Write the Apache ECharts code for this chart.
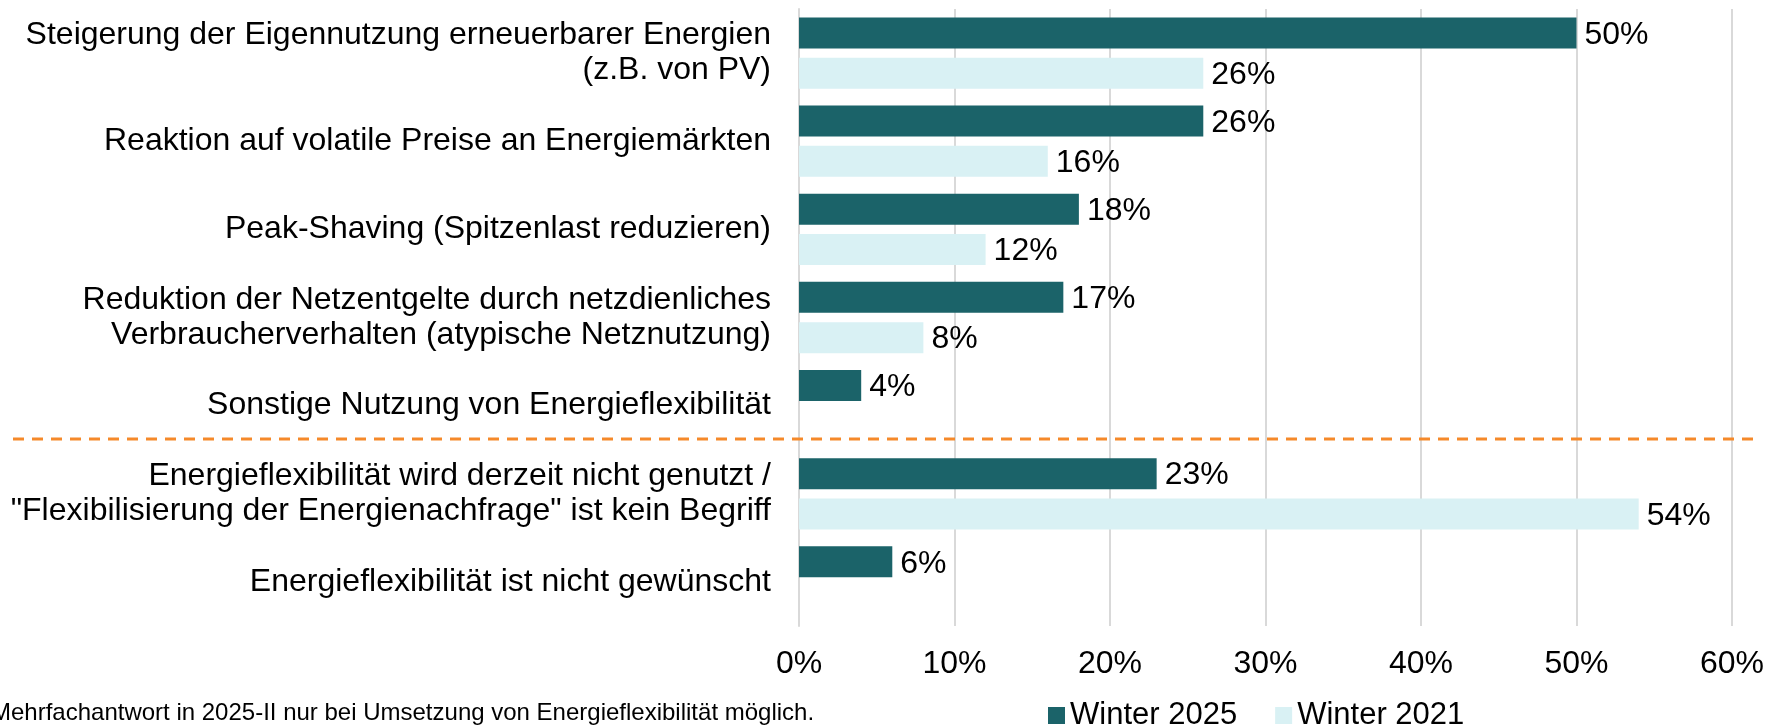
<!DOCTYPE html>
<html>
<head>
<meta charset="utf-8">
<script src="https://cdn.jsdelivr.net/npm/echarts@6/dist/echarts.min.js"></script>
<style>
  html, body { margin: 0; padding: 0; background: #fff; }
  #chart { width: 1767px; height: 726px; }
</style>
</head>
<body>
<div id="chart"></div>
<script>
var categories = [
  'Steigerung der Eigennutzung erneuerbarer Energien\n(z.B. von PV)',
  'Reaktion auf volatile Preise an Energiemärkten',
  'Peak-Shaving (Spitzenlast reduzieren)',
  'Reduktion der Netzentgelte durch netzdienliches\nVerbraucherverhalten (atypische Netznutzung)',
  'Sonstige Nutzung von Energieflexibilität',
  'Energieflexibilität wird derzeit nicht genutzt /\n"Flexibilisierung der Energienachfrage" ist kein Begriff',
  'Energieflexibilität ist nicht gewünscht'
];
var winter2025 = [50, 26, 18, 17, 4, 23, 6];
var winter2021 = [26, 16, 12, 8, null, 54, null];
var footnote = 'Mehrfachantwort in 2025-II nur bei Umsetzung von Energieflexibilität möglich.';

var font = "'Liberation Sans', Arial, sans-serif";
var chart = echarts.init(document.getElementById('chart'));

// shared style for the value labels at the bar ends
var valueLabel = {
  show: true,
  position: 'right',
  distance: 8,
  offset: [0, 2],
  formatter: '{c}%',
  color: '#000',
  fontSize: 32,
  fontFamily: font
};

var option = {
  animation: false,
  textStyle: { fontFamily: font },
  grid: { left: 799, top: 9, right: 34, bottom: 100, containLabel: false },
  legend: {
    left: 1043,
    top: 695,
    icon: 'rect',
    itemWidth: 17,
    itemHeight: 17,
    itemGap: 38,
    textStyle: { fontSize: 31, color: '#000', fontFamily: font },
    data: ['Winter 2025', 'Winter 2021']
  },
  xAxis: {
    type: 'value',
    min: 0,
    max: 60,
    interval: 10,
    axisLine: { show: false },
    axisTick: { show: false },
    splitLine: { lineStyle: { color: '#d9d9d9', width: 2 } },
    axisLabel: {
      formatter: '{value}%',
      color: '#000',
      fontSize: 32,
      margin: 22,
      fontFamily: font
    }
  },
  yAxis: {
    type: 'category',
    inverse: true,
    data: categories,
    axisLine: { lineStyle: { color: '#d9d9d9', width: 2 } },
    axisTick: { length: 9, lineStyle: { color: '#d9d9d9', width: 2 } },
    axisLabel: {
      color: '#000',
      fontSize: 32,
      lineHeight: 35,
      margin: 28,
      align: 'right',
      fontFamily: font
    }
  },
  series: [
    {
      name: 'Winter 2025',
      type: 'bar',
      data: winter2025,
      barWidth: 31,
      barGap: '30%',
      itemStyle: { color: '#1b6369' },
      label: valueLabel
    },
    {
      name: 'Winter 2021',
      type: 'bar',
      data: winter2021,
      barWidth: 31,
      barGap: '30%',
      itemStyle: { color: '#d9f1f4' },
      label: valueLabel
    }
  ],
  graphic: [
    {
      type: 'line',
      shape: { x1: 13, y1: 439, x2: 1755, y2: 439 },
      style: { stroke: '#f5892a', lineWidth: 3, lineDash: [11, 8] },
      z: 10
    },
    {
      type: 'text',
      left: -9,
      top: 701,
      style: { text: footnote, fontSize: 24, fill: '#000', fontFamily: font }
    }
  ]
};

chart.setOption(option);
</script>
</body>
</html>
